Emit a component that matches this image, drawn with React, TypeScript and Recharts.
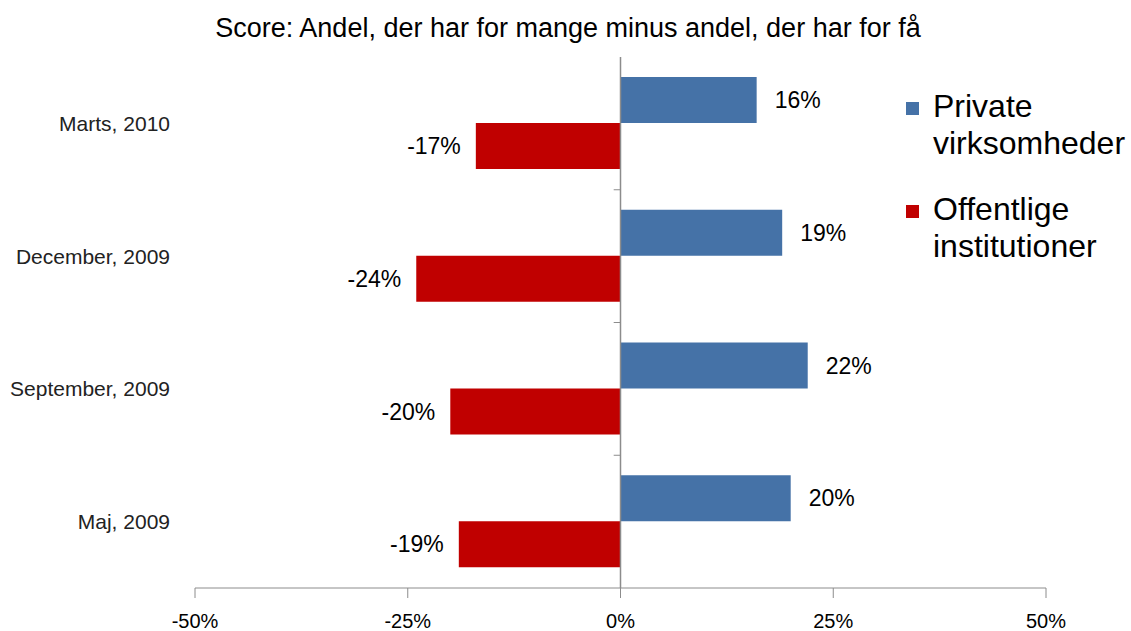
import React from 'react';
import {
  BarChart,
  Bar,
  XAxis,
  YAxis,
  LabelList,
  ReferenceLine,
} from 'recharts';

const categories = ['Marts, 2010', 'December, 2009', 'September, 2009', 'Maj, 2009'];
const privateValues = [16, 19, 22, 20];
const publicValues = [-17, -24, -20, -19];
const xTicks = [-50, -25, 0, 25, 50];

const seriesNames = ['Private\nvirksomheder', 'Offentlige\ninstitutioner'];
const seriesColors = ['#4572A7', '#C00000'];

const data = categories.map((name, i) => ({
  name,
  privat: privateValues[i],
  offentlig: publicValues[i],
}));

const font = '"Liberation Sans", Arial, sans-serif';
const pct = (v: number) => `${v}%`;

const CHART_H = 631;
const TOP = 57;
const AXIS_H = 43;
// half the height of one category band, used to put the small marks between categories
const halfBand = (CHART_H - TOP - AXIS_H) / categories.length / 2;

const BoundaryMark = (props: any) => {
  const { x1, x2, y1 } = props;
  const y = y1 - halfBand;
  return <line x1={x1} x2={x2} y1={y} y2={y} stroke="#8c8c8c" strokeWidth={1} />;
};

const App: React.FC = () => {
  return (
    <div style={{ position: 'absolute', left: 0, top: 0, width: 1131, height: 631, background: '#fff', fontFamily: font }}>
      <div
        style={{
          position: 'absolute',
          left: 0,
          top: 13,
          width: 1136,
          textAlign: 'center',
          fontSize: 27,
          color: '#000',
        }}
      >
        Score: Andel, der har for mange minus andel, der har for få
      </div>

      <BarChart
        width={1131}
        height={CHART_H}
        data={data}
        layout="vertical"
        margin={{ top: TOP, right: 85, bottom: 0, left: 0 }}
        barCategoryGap="15%"
        barGap={0}
      >
        <XAxis
          type="number"
          domain={[-50, 50]}
          ticks={xTicks}
          tickFormatter={pct}
          stroke="#8c8c8c"
          tickSize={10}
          tickMargin={16}
          tick={{ fill: '#000', fontSize: 20, fontFamily: font }}
          height={AXIS_H}
        />
        <YAxis
          type="category"
          dataKey="name"
          width={195}
          axisLine={false}
          tickLine={false}
          tickMargin={19}
          tick={{ fill: '#222', fontSize: 21, fontFamily: font }}
        />
        <ReferenceLine x={0} stroke="#8c8c8c" strokeWidth={1.5} />
        {categories.slice(1).map((c) => (
          <ReferenceLine
            key={c}
            segment={[
              { x: -0.8, y: c },
              { x: 0, y: c },
            ]}
            shape={BoundaryMark}
          />
        ))}
        <Bar dataKey="privat" fill={seriesColors[0]} isAnimationActive={false}>
          <LabelList
            dataKey="privat"
            position="right"
            offset={18}
            formatter={pct}
            style={{ fill: '#000', fontSize: 23, fontFamily: font }}
          />
        </Bar>
        <Bar dataKey="offentlig" fill={seriesColors[1]} isAnimationActive={false}>
          <LabelList
            dataKey="offentlig"
            position="right"
            offset={15}
            formatter={pct}
            style={{ fill: '#000', fontSize: 23, fontFamily: font }}
          />
        </Bar>
      </BarChart>

      <div style={{ position: 'absolute', left: 906, top: 88 }}>
        {seriesNames.map((name, i) => (
          <div key={name} style={{ display: 'flex', alignItems: 'flex-start', marginBottom: 29 }}>
            <div
              style={{
                width: 13,
                height: 13,
                background: seriesColors[i],
                marginTop: 14,
                marginRight: 14,
              }}
            />
            <div style={{ fontSize: 32, lineHeight: '37px', color: '#000', whiteSpace: 'pre' }}>{name}</div>
          </div>
        ))}
      </div>
    </div>
  );
};

export default App;
